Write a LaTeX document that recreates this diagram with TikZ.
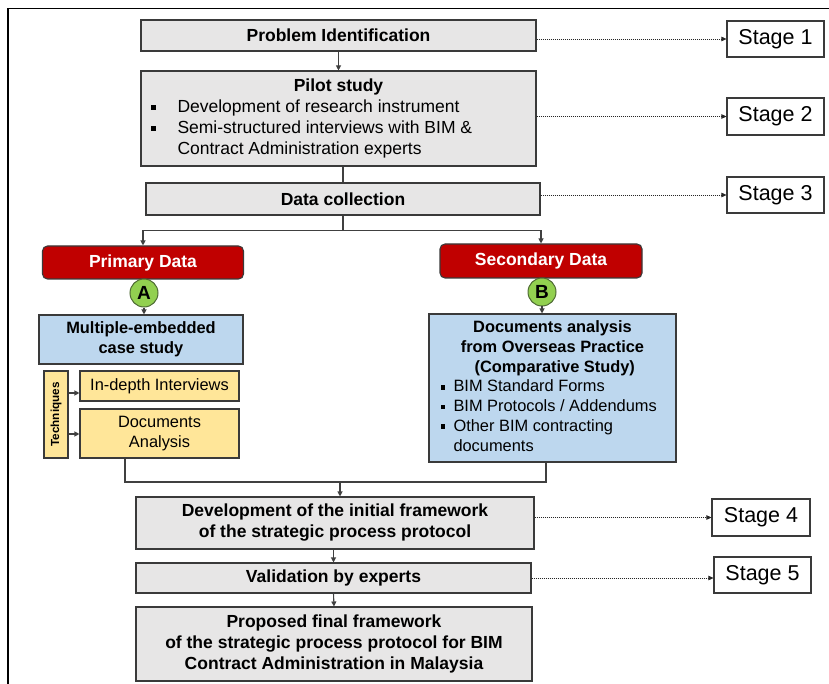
\documentclass[tikz,border=0pt]{standalone}
\usepackage{fontspec}
\setmainfont{Liberation Sans}
\usetikzlibrary{arrows.meta,calc}

\definecolor{boxgrey}{HTML}{E7E6E6}
\definecolor{edge}{HTML}{3A3A3A}
\definecolor{linec}{HTML}{404040}
\definecolor{darkred}{HTML}{C00000}
\definecolor{lightblue}{HTML}{BDD7EE}
\definecolor{paleyellow}{HTML}{FFE699}
\definecolor{leafgreen}{HTML}{92D050}
\definecolor{leafedge}{HTML}{4F6B35}

\newcommand\fsA{\fontsize{17.5}{21}\selectfont}
\newcommand\fsB{\fontsize{16.4}{19.7}\selectfont}
\newcommand\sqA{\hspace*{1pt}\rule[2.6pt]{5pt}{5pt}}
\newcommand\sqB{\hspace*{2pt}\rule[2.4pt]{4.6pt}{4.6pt}}

\begin{document}
\begin{tikzpicture}[x=1pt,y=-1pt,
  basebox/.style={draw=edge, line width=1.1pt, inner sep=0pt, align=center},
  gbox/.style={basebox, fill=boxgrey},
  redbox/.style={basebox, fill=darkred, rounded corners=5pt, text=white, font=\bfseries\fsA},
  bluebox/.style={basebox, fill=lightblue},
  yelbox/.style={basebox, fill=paleyellow},
  stagebox/.style={basebox, fill=white, font=\fontsize{21.5}{24}\selectfont},
  badge/.style={circle, draw=leafedge, line width=1pt, fill=leafgreen, minimum size=28pt, inner sep=0pt, font=\bfseries\fontsize{19}{19}\selectfont},
  conn/.style={draw=linec, line width=1.1pt},
  arr/.style={conn, -{Triangle[length=5pt,width=5pt]}},
  dotarr/.style={draw=black!85, line width=0.7pt, dash pattern=on 1pt off 1pt, -{Triangle[length=5pt,width=4.5pt]}}
]
\useasboundingbox (0,0) rectangle (829,684);

% outer frame (top and left edges)
\draw[line width=1.4pt] (8,684) -- (8,8.5) -- (829,8.5);

% main column
\node[gbox, minimum width=395pt, minimum height=31pt, font=\bfseries\fsA] (pi) at (338.5,35.5) {Problem Identification};

\node[gbox, minimum width=395pt, minimum height=95pt, font=\fsA] (pilot) at (338.5,118.5)
  {\begin{tabular}{@{}p{28pt}@{}p{350pt}@{}}
   \multicolumn{2}{c}{\bfseries Pilot study}\\
   \sqA & Development of research instrument\\
   \sqA & Semi-structured interviews with BIM \&\\
        & Contract Administration experts
   \end{tabular}};

\node[gbox, minimum width=394pt, minimum height=32pt, font=\bfseries\fsA] (dc) at (343,199) {Data collection};

% primary branch
\node[redbox, minimum width=201pt, minimum height=33pt] (prim) at (143,262.5) {Primary Data};
\node[badge] (ca) at (144,293) {A};
\node[bluebox, minimum width=204pt, minimum height=49pt, font=\bfseries\fsB] (mult) at (141,339.5) {Multiple-embedded\\case study};
\node[yelbox, minimum width=24pt, minimum height=87pt, font=\bfseries\fontsize{11.7}{12}\selectfont] (tech) at (56,414.5) {\rotatebox{90}{Techniques}};
\node[yelbox, minimum width=159pt, minimum height=30pt, font=\fsB] (indepth) at (159.5,386) {In-depth Interviews};
\node[yelbox, minimum width=159pt, minimum height=49pt, font=\fontsize{16.4}{20}\selectfont] (docan) at (159.5,433.5) {Documents\\Analysis};

% secondary branch
\node[redbox, minimum width=202pt, minimum height=34pt] (sec) at (541,261) {Secondary Data};
\node[badge] (cb) at (542,292) {B};
\node[bluebox, minimum width=247pt, minimum height=148pt, font=\fsB] (docs) at (552.5,388)
  {\begin{tabular}{@{}p{15pt}@{}p{213pt}@{}}
   \multicolumn{2}{c}{\bfseries Documents analysis}\\
   \multicolumn{2}{c}{\bfseries from Overseas Practice}\\
   \multicolumn{2}{c}{\bfseries \ (Comparative Study)}\\
   \sqB & BIM Standard Forms\\
   \sqB & BIM Protocols / Addendums\\
   \sqB & Other BIM contracting\\
        & documents
   \end{tabular}};

% lower column
\node[gbox, minimum width=398pt, minimum height=52pt, font=\bfseries\fsA] (dev) at (335,523)
  {Development of the initial framework\\of the strategic process protocol};
\node[gbox, minimum width=395pt, minimum height=30pt, font=\bfseries\fsA] (val) at (333.5,578) {Validation by experts};
\node[gbox, minimum width=396pt, minimum height=74pt, font=\bfseries\fsA] (prop) at (334,644)
  {Proposed final framework\\of the strategic process protocol for BIM\\Contract Administration in Malaysia};

% stage labels
\node[stagebox, minimum width=97pt, minimum height=36pt] (s1) at (775.5,39) {Stage 1};
\node[stagebox, minimum width=97pt, minimum height=37pt] (s2) at (775.5,116.5) {Stage 2};
\node[stagebox, minimum width=97pt, minimum height=36pt] (s3) at (775.5,195) {Stage 3};
\node[stagebox, minimum width=98pt, minimum height=37pt] (s4) at (761,517.5) {Stage 4};
\node[stagebox, minimum width=97pt, minimum height=36pt] (s5) at (762.5,575) {Stage 5};

% flow connectors
\draw[arr] (pi.south) -- (pilot.north);
\draw[conn] (dc.north |- pilot.south) -- (dc.north);
\draw[arr] (dc.south) -- ++(0,15) -| (prim.north);
\draw[arr] (dc.south) -- ++(0,15) -| (sec.north);
\draw[arr] (ca.south) -- (ca.south |- mult.north);
\draw[arr] (cb.south) -- (cb.south |- docs.north);

\coordinate (t1) at (0,393);
\coordinate (t2) at (0,434);
\draw[arr] (tech.east |- t1) -- (indepth.west |- t1);
\draw[arr] (tech.east |- t2) -- (docan.west |- t2);

\coordinate (mj) at (340,482);
\draw[conn] ([xshift=-34.5pt]docan.south) |- (mj);
\draw[conn] ([xshift=-6.5pt]docs.south) |- (mj);
\draw[arr] (mj) -- (mj |- dev.north);
\draw[arr] (dev.south -| val.north) -- (val.north);
\draw[arr] (val.south) -- (prop.north);

% stage pointers
\draw[dotarr] (pi.east |- s1.west) -- (s1.west);
\draw[dotarr] (pilot.east |- s2.west) -- (s2.west);
\draw[dotarr] (dc.east |- s3.west) -- (s3.west);
\draw[dotarr] (dev.east |- s4.west) -- (s4.west);
\draw[dotarr] (val.east) -- (val.east -| s5.west);
\end{tikzpicture}
\end{document}
